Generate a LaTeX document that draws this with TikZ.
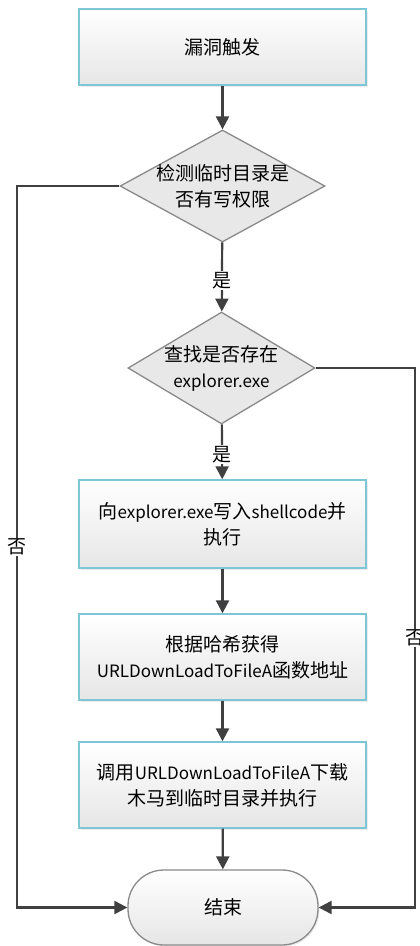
\documentclass[tikz,border=0pt]{standalone}
\usepackage{fontspec}
\setmainfont{Noto Sans CJK SC}
\usetikzlibrary{shapes.geometric,arrows.meta,shadows}
\definecolor{linec}{HTML}{404040}
\definecolor{boxedge}{HTML}{7CC6D6}
\definecolor{boxbot}{HTML}{E6E6E6}
\definecolor{diafill}{HTML}{E8E8E8}
\definecolor{diaedge}{HTML}{8A8A8A}
\tikzset{
  procbox/.style={draw=boxedge, line width=1.4pt, top color=white, bottom color=boxbot,
    minimum width=287pt, inner sep=2pt, align=center, text=black,
    drop shadow={shadow xshift=1.5pt, shadow yshift=-1.5pt, opacity=0.15}},
  decbox/.style={draw=diaedge, line width=1.3pt, fill=diafill, diamond, inner sep=0pt,
    minimum width=#1, minimum height=112pt},
  endbox/.style={draw=diaedge, line width=1.3pt, top color=white, bottom color=boxbot,
    rounded corners=36pt, minimum width=190pt, minimum height=75pt,
    drop shadow={shadow xshift=1.5pt, shadow yshift=-1.5pt, opacity=0.15}},
  conn/.style={draw=linec, line width=2.2pt, -{Triangle[length=13pt,width=13pt]}},
  lbl/.style={fill=white, inner sep=1pt, font=\fontsize{19}{22}\selectfont},
  txt/.style={font=\fontsize{19}{26}\selectfont, align=center}
}
\begin{document}
\begin{tikzpicture}[x=1pt,y=1pt]
\useasboundingbox (0,0) rectangle (420,-946);
\fill[white] (0,0) rectangle (420,-946);

\node[procbox, minimum height=76pt, txt] (b1) at (222.5,-47) {漏洞触发};
\node[decbox=205pt] (d1) at (222.5,-186) {};
\node[txt] (d1t) at (d1.center) {检测临时目录是\\否有写权限};
\node[decbox=187pt] (d2) at (221.5,-368) {};
\node[txt] (d2t) at (d2.center) {查找是否存在\\\fontsize{17}{26}\selectfont explorer.exe};
\node[procbox, minimum height=88pt, txt] (b2) at (222.5,-524) {向{\fontsize{17}{26}\selectfont explorer.exe}写入{\fontsize{17}{26}\selectfont shellcode}并\\执行};
\node[procbox, minimum height=86pt, txt] (b3) at (222.5,-657) {根据哈希获得\\{\fontsize{17}{26}\selectfont URLDownLoadToFileA}函数地址};
\node[procbox, minimum height=86pt, txt] (b4) at (222.5,-785) {调用{\fontsize{17}{26}\selectfont URLDownLoadToFileA}下载\\木马到临时目录并执行};
\node[endbox, txt] (e) at (223,-907.5) {结束};

\coordinate (lc1) at (17,-186);
\coordinate (lc2) at (17,-907.5);
\coordinate (rc1) at (415,-368);
\coordinate (rc2) at (415,-907.5);

\draw[conn] (b1) -- (d1);
\draw[conn] (d1) -- node[lbl, pos=0.55] {是} (d2);
\draw[conn] (d2) -- node[lbl, pos=0.55] {是} (b2);
\draw[conn] (b2) -- (b3);
\draw[conn] (b3) -- (b4);
\draw[conn] (b4) -- (e);
\draw[conn] (d1.west) -- (lc1) -- node[lbl, pos=0.5] {否} (lc2) -- (e.west);
\draw[conn] (d2.east) -- (rc1) -- node[lbl, pos=0.5] {否} (rc2) -- (e.east);
\end{tikzpicture}
\end{document}
